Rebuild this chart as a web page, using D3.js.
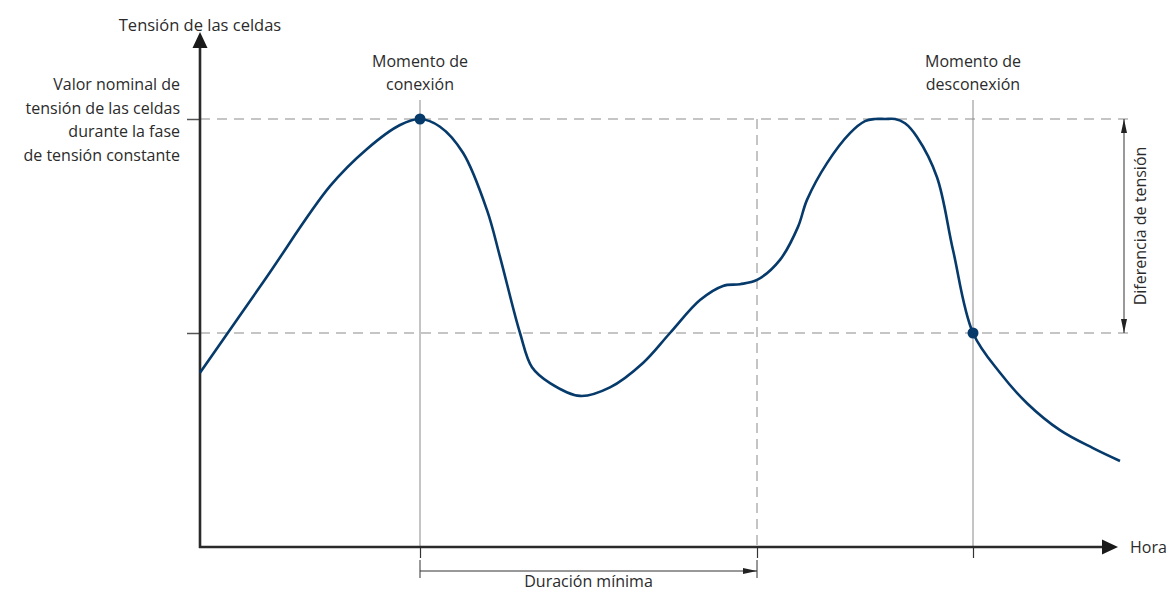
<!DOCTYPE html>
<html>
<head>
<meta charset="utf-8">
<script src="https://cdn.jsdelivr.net/npm/d3@7"></script>
<style>
  body { margin: 0; background: #fff; }
  text { font-family: "Open Sans", sans-serif; fill: #2b2b2b; }
</style>
</head>
<body>
<div class="chart"></div>
<script>
let w = 1172;
let h = 592;

// curve: time offset (px units of the time axis) vs cell voltage (0-100)
let curveT = [0, 65, 130, 167, 200, 220, 240, 263, 287, 300, 320, 332, 350, 380, 410, 443, 470, 500, 523, 540, 557, 580, 598, 607, 627, 650, 665, 675, 685, 695, 705, 717, 737, 753, 773, 800, 827, 860, 893, 920];
let curveV = [40.7, 62.5, 84.3, 93, 98.6, 100, 98.2, 92.1, 78.7, 67.8, 50, 42, 38.3, 35.3, 37.3, 43, 50, 57.7, 61, 61.4, 62.4, 67.1, 74.8, 81.1, 89.7, 96.7, 99.5, 100, 100, 100, 99, 95.8, 86.4, 69.4, 50, 40.7, 33.6, 27.3, 23.1, 20.1];

let levels = [50, 100];           // lower limit, nominal voltage
let nominal = 100;
let lower = 50;
let tConnect = 220;
let tMinEnd = 557;
let tDisconnect = 773;
let markT = [tConnect, tDisconnect];
let markV = [100, 50];

let x = d3.scaleLinear().domain([0, 917]).range([200, 1117]);
let y = d3.scaleLinear().domain([0, 100]).range([547, 119]);

let svg = d3.select(".chart").append("svg")
  .attr("width", w)
  .attr("height", h);

let defs = svg.append("defs");
defs.append("marker")
  .attr("id", "thinArrow")
  .attr("viewBox", "0 0 14 8")
  .attr("refX", 14).attr("refY", 4)
  .attr("markerWidth", 14).attr("markerHeight", 8)
  .attr("markerUnits", "userSpaceOnUse")
  .attr("orient", "auto-start-reverse")
  .append("path").attr("d", "M0,1 L14,4 L0,7 Z").attr("fill", "#222");

// dashed horizontal guide lines
svg.selectAll(".hguide")
  .data(levels)
  .enter()
  .append("line")
    .attr("x1", x(0))
    .attr("x2", 1130)
    .attr("y1", function(d){ return y(d); })
    .attr("y2", function(d){ return y(d); })
    .attr("stroke", "#b3b3b3")
    .attr("stroke-width", 1.5)
    .attr("stroke-dasharray", "10,7");

// vertical lines at connection / disconnection
svg.selectAll(".vguide")
  .data(markT)
  .enter()
  .append("line")
    .attr("x1", function(d){ return x(d); })
    .attr("x2", function(d){ return x(d); })
    .attr("y1", 100)
    .attr("y2", 547)
    .attr("stroke", "#8a8a8a")
    .attr("stroke-width", 1);

// dashed vertical at the end of minimum duration
svg.append("line")
  .attr("x1", x(tMinEnd)).attr("x2", x(tMinEnd))
  .attr("y1", y(nominal)).attr("y2", 547)
  .attr("stroke", "#8a8a8a")
  .attr("stroke-width", 1)
  .attr("stroke-dasharray", "10,6");

// axes ticks
let yAxis = d3.axisLeft(y).tickValues(levels).tickSize(13).tickFormat("");
svg.append("g")
  .attr("transform", "translate(200,0)")
  .call(yAxis)
  .call(function(g){
    g.select(".domain").remove();
    g.selectAll(".tick line").attr("stroke", "#555").attr("stroke-width", 1.5);
  });

let xAxis = d3.axisBottom(x).tickValues([tConnect, tMinEnd, tDisconnect]).tickSize(11).tickFormat("");
svg.append("g")
  .attr("transform", "translate(0,547)")
  .call(xAxis)
  .call(function(g){
    g.select(".domain").remove();
    g.selectAll(".tick line").attr("stroke", "#333").attr("stroke-width", 1.2);
  });

// axis lines with arrow heads
svg.append("line")
  .attr("x1", 200).attr("y1", 548).attr("x2", 200).attr("y2", 46)
  .attr("stroke", "#2a2a2a").attr("stroke-width", 2.6);
svg.append("path")
  .attr("d", "M200,32 L207.5,48 L192.5,48 Z")
  .attr("fill", "#1a1a1a");
svg.append("line")
  .attr("x1", 199).attr("y1", 547).attr("x2", 1104).attr("y2", 547)
  .attr("stroke", "#2a2a2a").attr("stroke-width", 2.6);
svg.append("path")
  .attr("d", "M1118,547 L1102,539.5 L1102,554.5 Z")
  .attr("fill", "#1a1a1a");

// minimum duration bracket
svg.selectAll(".bracket")
  .data([tConnect, tMinEnd])
  .enter()
  .append("line")
    .attr("x1", function(d){ return x(d); })
    .attr("x2", function(d){ return x(d); })
    .attr("y1", 560)
    .attr("y2", 578)
    .attr("stroke", "#333")
    .attr("stroke-width", 1);
svg.append("line")
  .attr("x1", x(tConnect)).attr("x2", x(tMinEnd))
  .attr("y1", 571).attr("y2", 571)
  .attr("stroke", "#333").attr("stroke-width", 1)
  .attr("marker-end", "url(#thinArrow)");

// voltage difference double arrow
svg.append("line")
  .attr("x1", 1124).attr("x2", 1124)
  .attr("y1", y(nominal)).attr("y2", y(lower))
  .attr("stroke", "#333").attr("stroke-width", 1)
  .attr("marker-start", "url(#thinArrow)")
  .attr("marker-end", "url(#thinArrow)");

// the voltage curve
let line = d3.line()
  .x(function(d, i){ return x(curveT[i]); })
  .y(function(d, i){ return y(curveV[i]); })
  .curve(d3.curveCatmullRom.alpha(0.5));

svg.append("path")
  .datum(curveT)
  .attr("d", line)
  .attr("fill", "none")
  .attr("stroke", "#063a6b")
  .attr("stroke-width", 2.6);

svg.selectAll(".dot")
  .data(markT)
  .enter()
  .append("circle")
    .attr("cx", function(d){ return x(d); })
    .attr("cy", function(d, i){ return y(markV[i]); })
    .attr("r", 5.5)
    .attr("fill", "#063a6b");

// texts
let fs = "16px";
svg.append("text")
  .attr("x", 200).attr("y", 31)
  .attr("text-anchor", "middle")
  .style("font-size", "16.5px")
  .text("Tensión de las celdas");

let leftLines = ["Valor nominal de", "tensión de las celdas", "durante la fase", "de tensión constante"];
svg.selectAll(".leftlab")
  .data(leftLines)
  .enter()
  .append("text")
    .attr("x", 180)
    .attr("y", function(d, i){ return 90 + i * 23.5; })
    .attr("text-anchor", "end")
    .style("font-size", fs)
    .text(function(d){ return d; });

let topLabels = [["Momento de", "conexión"], ["Momento de", "desconexión"]];
topLabels.forEach(function(lines, k){
  svg.selectAll(".toplab" + k)
    .data(lines)
    .enter()
    .append("text")
      .attr("x", x(markT[k]))
      .attr("y", function(d, i){ return 67 + i * 23; })
      .attr("text-anchor", "middle")
      .style("font-size", fs)
      .text(function(d){ return d; });
});

svg.append("text")
  .attr("x", 1130).attr("y", 553)
  .style("font-size", fs)
  .text("Hora");

svg.append("text")
  .attr("x", (x(tConnect) + x(tMinEnd)) / 2).attr("y", 587)
  .attr("text-anchor", "middle")
  .style("font-size", fs)
  .text("Duración mínima");

svg.append("text")
  .attr("transform", "translate(1146," + (y(nominal) + y(lower)) / 2 + ") rotate(-90)")
  .attr("text-anchor", "middle")
  .style("font-size", fs)
  .text("Diferencia de tensión");
</script>
</body>
</html>
